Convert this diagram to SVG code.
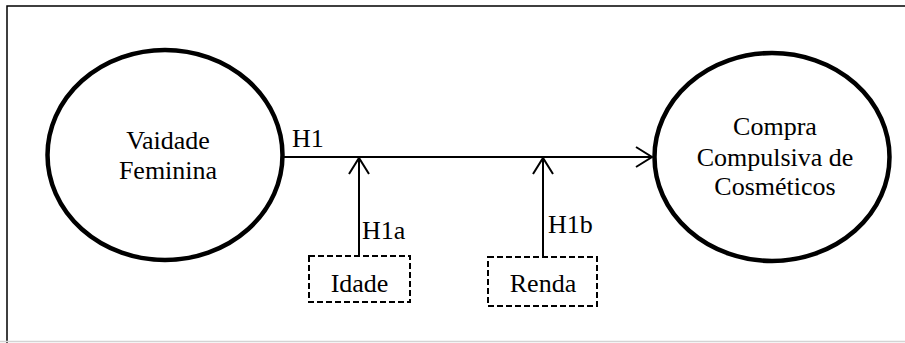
<svg xmlns="http://www.w3.org/2000/svg" width="905" height="343" viewBox="0 0 905 343">
  <style>
    .lbl { font-family: "Liberation Serif", "Times New Roman", serif; font-size: 26px; fill: #000; }
    .mid { text-anchor: middle; }
    .construct { fill: #fff; stroke: #000; stroke-width: 4.5; }
    .moderator { fill: #fff; stroke: #000; stroke-width: 2; stroke-dasharray: 6 3; }
    .link { fill: none; stroke: #000; stroke-width: 2; }
  </style>
  <defs>
    <marker id="open-arrow" markerUnits="userSpaceOnUse" markerWidth="20" markerHeight="24" viewBox="-18 -12 20 24" refX="0" refY="0" orient="auto">
      <path d="M-16,-10 L0,0 L-16,10" fill="none" stroke="#000" stroke-width="2"/>
    </marker>
  </defs>

  <rect width="905" height="343" fill="#fff"/>

  <!-- figure frame -->
  <g id="frame">
    <path d="M7,343 V6 H905" fill="none" stroke="#000" stroke-width="1.5"/>
    <line x1="0" y1="341.5" x2="905" y2="341.5" stroke="#d4d4d4" stroke-width="1.5"/>
  </g>

  <!-- connectors -->
  <g id="connectors">
    <line class="link" x1="284" y1="157" x2="652" y2="157" marker-end="url(#open-arrow)"/>
    <line class="link" x1="359" y1="256" x2="359" y2="158" marker-end="url(#open-arrow)"/>
    <line class="link" x1="543" y1="257" x2="543" y2="158" marker-end="url(#open-arrow)"/>
    <text class="lbl" x="292" y="147">H1</text>
    <text class="lbl" x="362" y="239">H1a</text>
    <text class="lbl" x="548" y="233">H1b</text>
  </g>

  <g id="vaidade-feminina">
    <ellipse class="construct" cx="165" cy="155" rx="117.5" ry="105"/>
    <text class="lbl mid" x="168" y="149">Vaidade</text>
    <text class="lbl mid" x="168" y="179">Feminina</text>
  </g>

  <g id="compra-compulsiva">
    <ellipse class="construct" cx="772" cy="157" rx="117.5" ry="104"/>
    <text class="lbl mid" x="775" y="135">Compra</text>
    <text class="lbl mid" x="775" y="166">Compulsiva de</text>
    <text class="lbl mid" x="775" y="195">Cosméticos</text>
  </g>

  <g id="idade">
    <rect class="moderator" x="309" y="256" width="101" height="46"/>
    <text class="lbl mid" x="359.5" y="292">Idade</text>
  </g>

  <g id="renda">
    <rect class="moderator" x="488" y="257" width="109" height="49"/>
    <text class="lbl mid" x="543" y="292">Renda</text>
  </g>
</svg>
